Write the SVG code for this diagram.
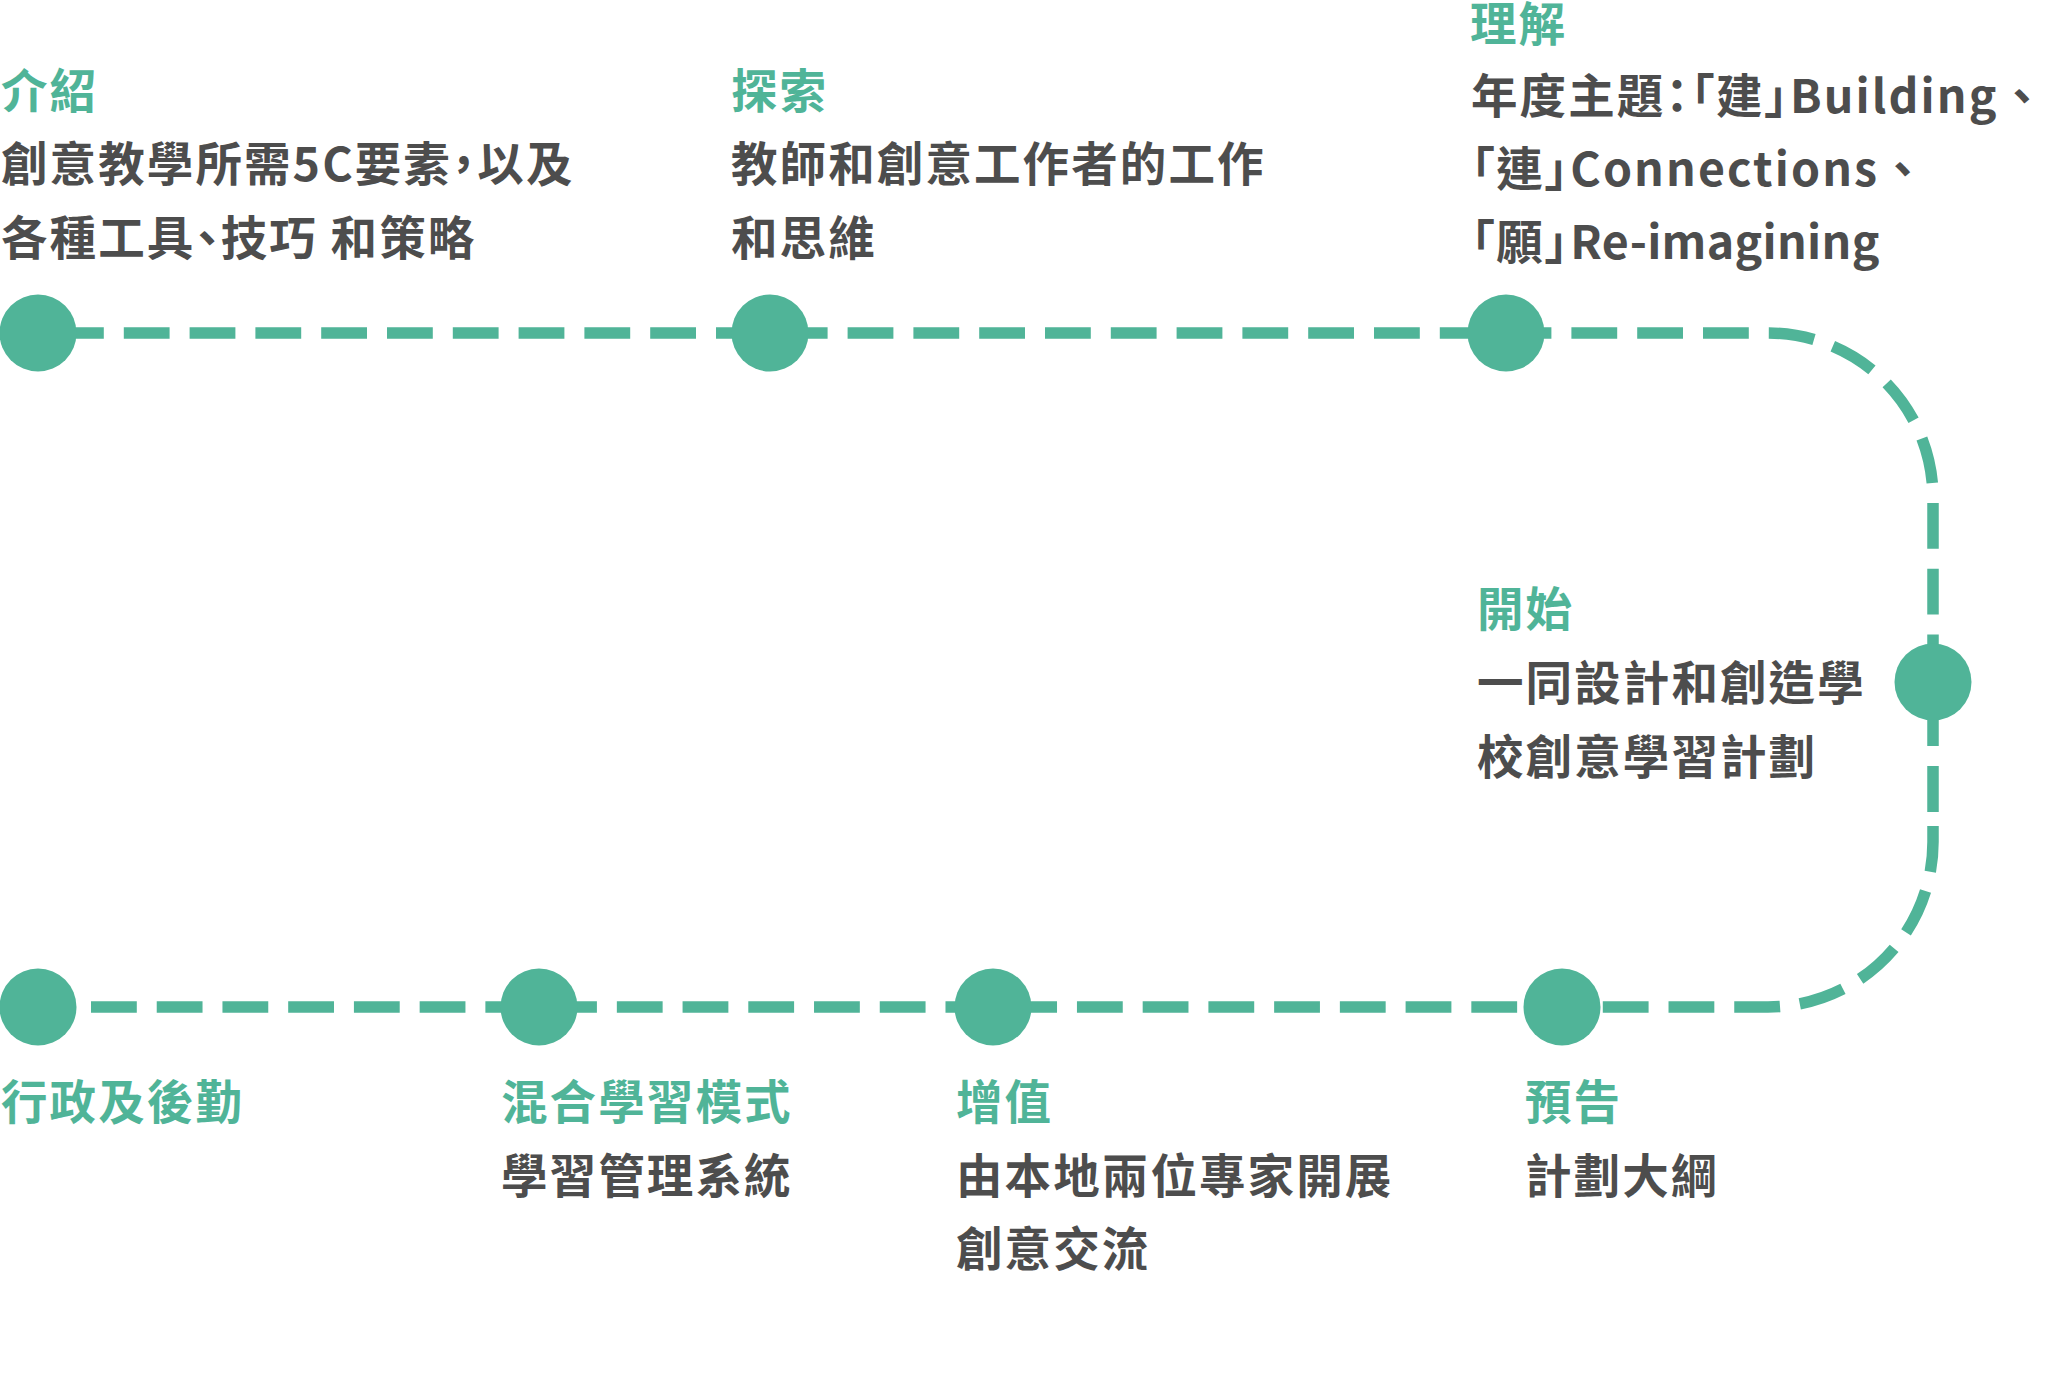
<svg xmlns="http://www.w3.org/2000/svg" width="2048" height="1389" viewBox="0 0 2048 1389">
<style>
.conn{fill:none;stroke:#50b498;stroke-width:11.5;stroke-linecap:butt}
.dot{fill:#50b498}
text{font-family:"Noto Sans CJK TC","Noto Sans CJK SC",sans-serif;font-weight:700;font-size:46.5px;letter-spacing:2.1px;font-feature-settings:"palt"}
.t{fill:#50b498}
.b{fill:#4d4d4d}
.fw{font-feature-settings:normal}
</style>
<rect width="2048" height="1389" fill="#ffffff"/>
<g id="connectors">
<path class="conn" d="M 38 333 H 1768 A 165 165 0 0 1 1933 498 V 822" stroke-dasharray="45.8 20" stroke-dashoffset="45.8"/>
<path class="conn" d="M 38 1007 H 1768 A 165 165 0 0 0 1933 842 V 820" stroke-dasharray="45.8 19.93" stroke-dashoffset="12.73"/>
</g>
<g id="node-intro">
<circle class="dot" cx="38" cy="333" r="38.5"/>
<text class="t" x="1" y="108">介紹</text>
<text class="b" x="1" y="181">創意教學所需5C要素，以及</text>
<text class="b" x="1" y="255">各種工具、技巧 和策略</text>
</g>
<g id="node-explore">
<circle class="dot" cx="770" cy="333" r="38.5"/>
<text class="t" x="731" y="108">探索</text>
<text class="b" x="731" y="181">教師和創意工作者的工作</text>
<text class="b" x="731" y="255">和思維</text>
</g>
<g id="node-understand">
<circle class="dot" cx="1506" cy="333" r="38.5"/>
<text class="t" x="1470" y="41">理解</text>
<text class="b" x="1471" y="113">年度主題：「建」Building<tspan class="fw">、</tspan></text>
<text class="b" x="1471" y="186">「連」Connections<tspan class="fw">、</tspan></text>
<text class="b" x="1471" y="259">「願」<tspan letter-spacing="0.3">Re-imagining</tspan></text>
</g>
<g id="node-start">
<circle class="dot" cx="1933" cy="682" r="38.5"/>
<text class="t" x="1477" y="626">開始</text>
<text class="b" x="1477" y="700">一同設計和創造學</text>
<text class="b" x="1477" y="774">校創意學習計劃</text>
</g>
<g id="node-preview">
<circle class="dot" cx="1562" cy="1007" r="38.5"/>
<text class="t" x="1525" y="1119">預告</text>
<text class="b" x="1525" y="1193">計劃大綱</text>
</g>
<g id="node-value">
<circle class="dot" cx="993" cy="1007" r="38.5"/>
<text class="t" x="956" y="1119">增值</text>
<text class="b" x="956" y="1193">由本地兩位專家開展</text>
<text class="b" x="956" y="1266">創意交流</text>
</g>
<g id="node-blended">
<circle class="dot" cx="539" cy="1007" r="38.5"/>
<text class="t" x="501" y="1119">混合學習模式</text>
<text class="b" x="501" y="1193">學習管理系統</text>
</g>
<g id="node-admin">
<circle class="dot" cx="38" cy="1007" r="38.5"/>
<text class="t" x="1" y="1119">行政及後勤</text>
</g>
</svg>
